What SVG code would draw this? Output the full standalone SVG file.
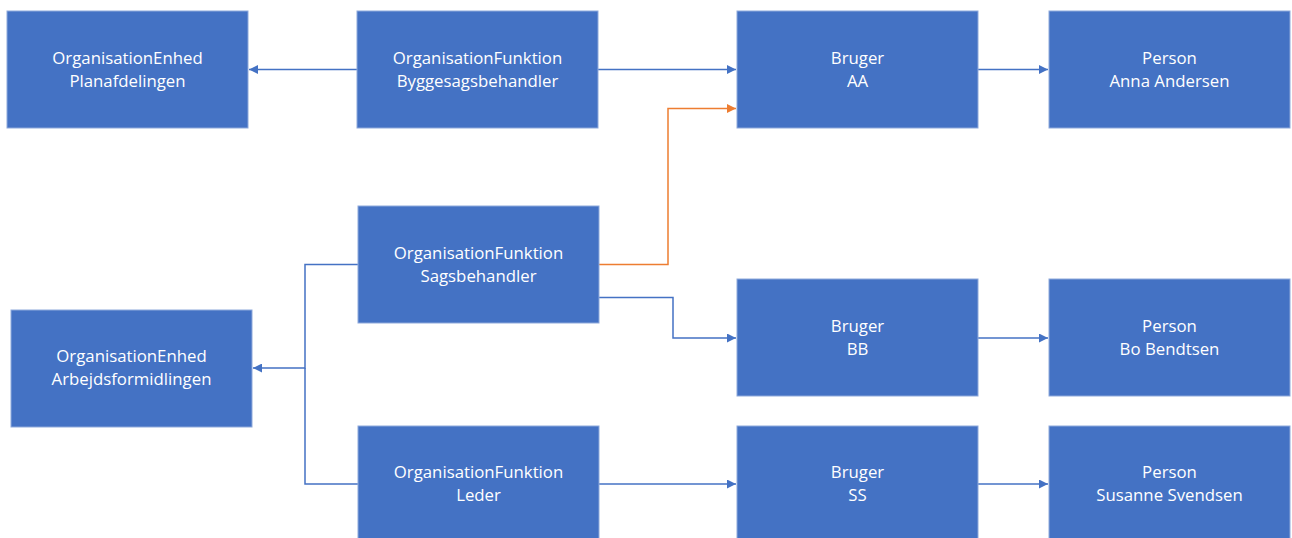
<svg xmlns="http://www.w3.org/2000/svg" width="1292" height="538" viewBox="0 0 1292 538">
<style>
.box{fill:#4472C4;stroke:#8EA9DB;stroke-width:1}
.t{font-family:"Open Sans","Liberation Sans",Arial,sans-serif;font-size:16.8px;fill:#fff;text-anchor:middle}
.c{fill:none;stroke:#4472C4;stroke-width:1.5}
.o{fill:none;stroke:#ED7D31;stroke-width:1.5}
</style>
<defs>
<marker id="ab" viewBox="0 0 10 10" refX="10" refY="5" markerWidth="9" markerHeight="9" markerUnits="userSpaceOnUse" orient="auto"><path d="M0,0L10,5L0,10z" fill="#4472C4"/></marker>
<marker id="ao" viewBox="0 0 10 10" refX="10" refY="5" markerWidth="9" markerHeight="9" markerUnits="userSpaceOnUse" orient="auto"><path d="M0,0L10,5L0,10z" fill="#ED7D31"/></marker>
</defs>
<rect width="1292" height="538" fill="#fff"/>
<g id="connectors">
<path class="c" d="M357,69.5H249" marker-end="url(#ab)"/>
<path class="c" d="M598,69.5H736" marker-end="url(#ab)"/>
<path class="c" d="M978,69.5H1048" marker-end="url(#ab)"/>
<path class="o" d="M599,264.5H668V108.5H736" marker-end="url(#ao)"/>
<path class="c" d="M599,297.5H673V338H736" marker-end="url(#ab)"/>
<path class="c" d="M978,338H1048" marker-end="url(#ab)"/>
<path class="c" d="M358,264.5H305V368H253" marker-end="url(#ab)"/>
<path class="c" d="M358,484H305V368"/>
<path class="c" d="M599,484H736" marker-end="url(#ab)"/>
<path class="c" d="M978,484H1048" marker-end="url(#ab)"/>
</g>
<g id="oe-plan"><rect class="box" x="7" y="11" width="241" height="117"/><text class="t" x="127.5" y="64">OrganisationEnhed</text><text class="t" x="127.5" y="87">Planafdelingen</text></g>
<g id="of-bygge"><rect class="box" x="357" y="11" width="241" height="117"/><text class="t" x="477.5" y="64">OrganisationFunktion</text><text class="t" x="477.5" y="87">Byggesagsbehandler</text></g>
<g id="bruger-aa"><rect class="box" x="737" y="11" width="241" height="117"/><text class="t" x="857.5" y="64">Bruger</text><text class="t" x="857.5" y="87">AA</text></g>
<g id="person-aa"><rect class="box" x="1049" y="11" width="241" height="117"/><text class="t" x="1169.5" y="64">Person</text><text class="t" x="1169.5" y="87">Anna Andersen</text></g>
<g id="of-sags"><rect class="box" x="358" y="206" width="241" height="117"/><text class="t" x="478.5" y="259">OrganisationFunktion</text><text class="t" x="478.5" y="282">Sagsbehandler</text></g>
<g id="oe-arbejd"><rect class="box" x="11" y="310" width="241" height="117"/><text class="t" x="131.5" y="362">OrganisationEnhed</text><text class="t" x="131.5" y="385">Arbejdsformidlingen</text></g>
<g id="bruger-bb"><rect class="box" x="737" y="279" width="241" height="117"/><text class="t" x="857.5" y="332">Bruger</text><text class="t" x="857.5" y="355">BB</text></g>
<g id="person-bb"><rect class="box" x="1049" y="279" width="241" height="117"/><text class="t" x="1169.5" y="332">Person</text><text class="t" x="1169.5" y="355">Bo Bendtsen</text></g>
<g id="of-leder"><rect class="box" x="358" y="426" width="241" height="117"/><text class="t" x="478.5" y="478">OrganisationFunktion</text><text class="t" x="478.5" y="501">Leder</text></g>
<g id="bruger-ss"><rect class="box" x="737" y="426" width="241" height="117"/><text class="t" x="857.5" y="478">Bruger</text><text class="t" x="857.5" y="501">SS</text></g>
<g id="person-ss"><rect class="box" x="1049" y="426" width="241" height="117"/><text class="t" x="1169.5" y="478">Person</text><text class="t" x="1169.5" y="501">Susanne Svendsen</text></g>
</svg>
